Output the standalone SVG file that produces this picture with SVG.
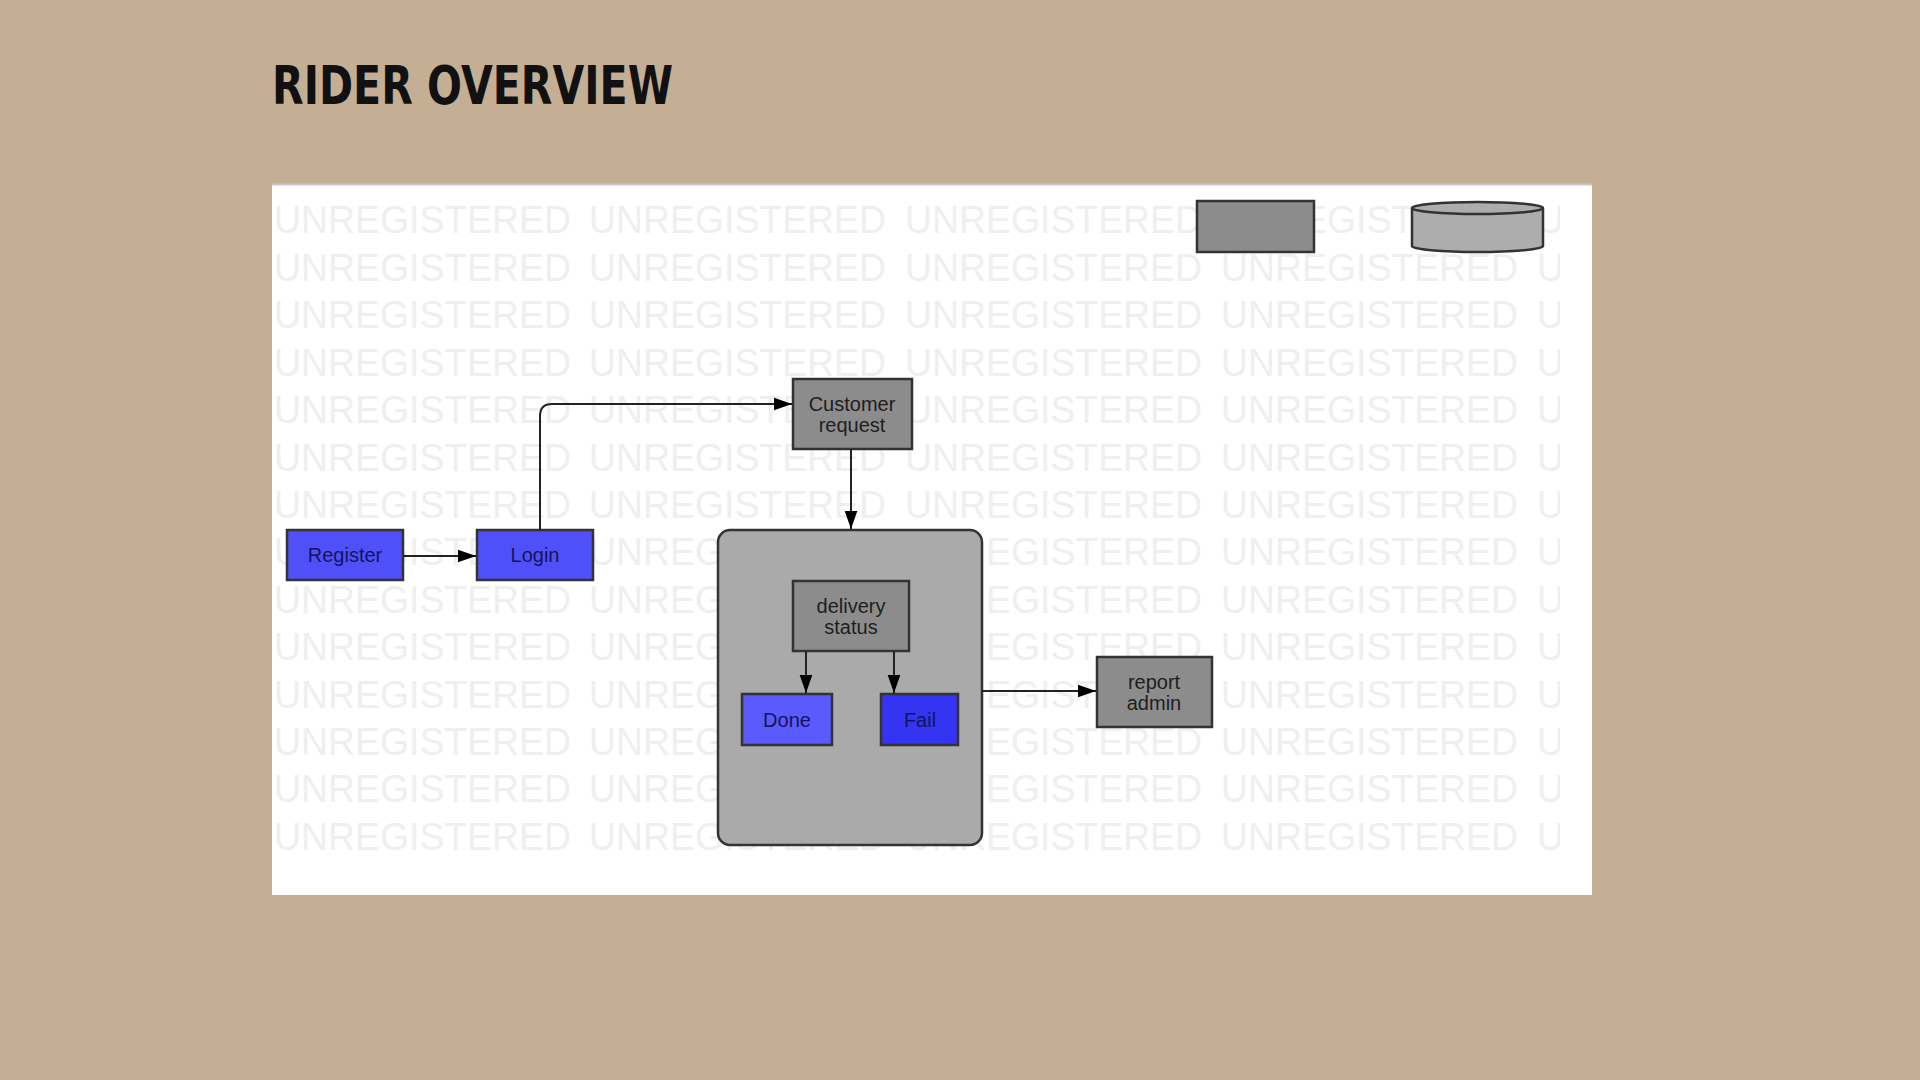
<svg xmlns="http://www.w3.org/2000/svg" width="1920" height="1080" viewBox="0 0 1920 1080">
<defs>
<style>
.wm{font-family:"Liberation Sans",Arial,sans-serif;font-size:38px;fill:#efefef}
.node{stroke:#333;stroke-width:2.5}
.gray{fill:#8c8c8c}
.blue{fill:#5050f8}
.lbl{font-family:"Liberation Sans",Arial,sans-serif;font-size:20px;text-anchor:middle}
.dk{fill:#1e1e1e}
.nv{fill:#14145a}
.conn{fill:none;stroke:#222;stroke-width:2}
</style>
<marker id="arrB" viewBox="0 0 10 10" refX="10" refY="5" markerWidth="18" markerHeight="18" markerUnits="userSpaceOnUse" orient="auto">
<path d="M0,1.5 L10,5 L0,8.5 z" fill="#000"/>
</marker>
<clipPath id="wmclip"><rect x="272" y="186" width="1288" height="709"/></clipPath>
<g id="wmrow">
<text class="wm" x="274" textLength="297" lengthAdjust="spacingAndGlyphs">UNREGISTERED</text>
<text class="wm" x="589" textLength="297" lengthAdjust="spacingAndGlyphs">UNREGISTERED</text>
<text class="wm" x="905" textLength="297" lengthAdjust="spacingAndGlyphs">UNREGISTERED</text>
<text class="wm" x="1221" textLength="297" lengthAdjust="spacingAndGlyphs">UNREGISTERED</text>
<text class="wm" x="1537" textLength="297" lengthAdjust="spacingAndGlyphs">UNREGISTERED</text>
</g>
</defs>
<rect x="0" y="0" width="1920" height="1080" fill="#c5af94"/>
<text x="272" y="104" font-family="DejaVu Sans,sans-serif" font-weight="bold" font-size="54" textLength="401" lengthAdjust="spacingAndGlyphs" fill="#111">RIDER OVERVIEW</text>
<rect x="272" y="184" width="1320" height="711" fill="#ffffff"/>
<line x1="272" y1="184.5" x2="1592" y2="184.5" stroke="#c8c8c8" stroke-width="2"/>
<g id="watermark" clip-path="url(#wmclip)">
<use href="#wmrow" y="233"/>
<use href="#wmrow" y="281"/>
<use href="#wmrow" y="328"/>
<use href="#wmrow" y="376"/>
<use href="#wmrow" y="423"/>
<use href="#wmrow" y="471"/>
<use href="#wmrow" y="518"/>
<use href="#wmrow" y="565"/>
<use href="#wmrow" y="613"/>
<use href="#wmrow" y="660"/>
<use href="#wmrow" y="708"/>
<use href="#wmrow" y="755"/>
<use href="#wmrow" y="802"/>
<use href="#wmrow" y="850"/>
</g>
<g id="legend-rect"><rect class="node gray" x="1197" y="201" width="117" height="51"/></g>
<g id="legend-cylinder">
<path d="M1412,208 L1412,246 A65.5,6 0 0 0 1543,246 L1543,208" fill="#adadad" stroke="#333" stroke-width="2.5"/>
<ellipse cx="1477.5" cy="208" rx="65.5" ry="6" fill="#adadad" stroke="#333" stroke-width="2.5"/>
</g>
<g id="container"><rect x="718" y="530" width="264" height="315" rx="12" fill="#aaaaaa" stroke="#333" stroke-width="2.5"/></g>
<g id="register"><rect class="node blue" x="287" y="530" width="116" height="50"/><text class="lbl nv" x="345" y="562">Register</text></g>
<g id="login"><rect class="node blue" x="477" y="530" width="116" height="50"/><text class="lbl nv" x="535" y="562">Login</text></g>
<g id="customer-request"><rect class="node gray" x="793" y="379" width="119" height="70"/><text class="lbl dk" x="852" y="411">Customer</text><text class="lbl dk" x="852" y="432">request</text></g>
<g id="delivery-status"><rect class="node gray" x="793" y="581" width="116" height="70"/><text class="lbl dk" x="851" y="613">delivery</text><text class="lbl dk" x="851" y="634">status</text></g>
<g id="done"><rect class="node" fill="#5a5aff" x="742" y="694" width="90" height="51"/><text class="lbl nv" x="787" y="727">Done</text></g>
<g id="fail"><rect class="node" fill="#3434f2" x="881" y="694" width="77" height="51"/><text class="lbl nv" x="920" y="727">Fail</text></g>
<g id="report-admin"><rect class="node gray" x="1097" y="657" width="115" height="70"/><text class="lbl dk" x="1154" y="689">report</text><text class="lbl dk" x="1154" y="710">admin</text></g>
<g id="connectors">
<path class="conn" d="M403,556 L476,556" marker-end="url(#arrB)"/>
<path class="conn" d="M540,530 L540,416 Q540,404 552,404 L792,404" marker-end="url(#arrB)"/>
<path class="conn" d="M851,449 L851,529" marker-end="url(#arrB)"/>
<path class="conn" d="M806,651 L806,693" marker-end="url(#arrB)"/>
<path class="conn" d="M894,651 L894,693" marker-end="url(#arrB)"/>
<path class="conn" d="M982,691 L1096,691" marker-end="url(#arrB)"/>
</g>
</svg>
